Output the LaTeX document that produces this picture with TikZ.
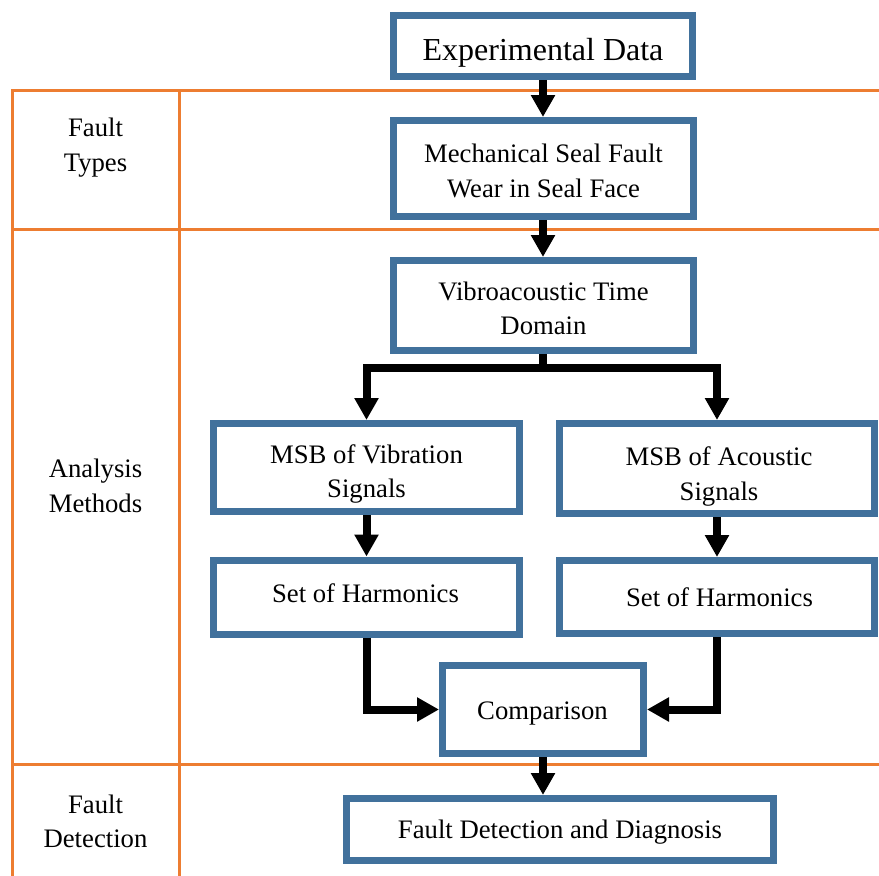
\documentclass[tikz,border=0pt]{standalone}
\usepackage{fontspec}
\setmainfont{Liberation Serif}
\usetikzlibrary{arrows.meta}
\definecolor{boxblue}{RGB}{65,113,156}
\definecolor{gridorange}{RGB}{237,125,49}
\begin{document}
\begin{tikzpicture}[x=1pt,y=-1pt,
  stagebox/.style={draw=boxblue, line width=7pt, fill=white, inner sep=0pt},
  boxtext/.style={anchor=base, inner sep=0pt, font=\fontsize{26.7}{35}\selectfont},
  titletext/.style={boxtext, font=\fontsize{32}{38}\selectfont},
  flow/.style={line width=8pt, -{Triangle[length=22pt,width=23pt]}},
  grid/.style={draw=gridorange, line width=3pt}]
\useasboundingbox (0,0) rectangle (879,876);

% table frame
\draw[grid] (12,876) -- (12,90) -- (879,90);
\draw[grid] (179,90) -- (179,876);
\draw[grid] (12,229) -- (879,229);
\draw[grid] (12,764) -- (879,764);

% row labels (one node per printed line, placed on its baseline)
\node[boxtext] (rowtypesA) at (95.5,136) {Fault};
\node[boxtext] (rowtypesB) at (95.5,171) {Types};
\node[boxtext] (rowmethodsA) at (95.5,477) {Analysis};
\node[boxtext] (rowmethodsB) at (95.5,512) {Methods};
\node[boxtext] (rowdetectA) at (95.5,813) {Fault};
\node[boxtext] (rowdetectB) at (95.5,847) {Detection};

% process stages
\node[stagebox, minimum width=299pt, minimum height=61pt] (data) at (543,46) {};
\node[stagebox, minimum width=300pt, minimum height=96pt] (seal) at (543.5,168.5) {};
\node[stagebox, minimum width=300pt, minimum height=90pt] (vibro) at (543.5,305.5) {};
\node[stagebox, minimum width=306pt, minimum height=88pt] (msbv) at (366.5,467.5) {};
\node[stagebox, minimum width=315pt, minimum height=90pt] (msba) at (717,468.5) {};
\node[stagebox, minimum width=306pt, minimum height=74pt] (harmv) at (366,597) {};
\node[stagebox, minimum width=315pt, minimum height=73pt] (harma) at (717,597) {};
\node[stagebox, minimum width=201pt, minimum height=88pt] (comp) at (543,709.5) {};
\node[stagebox, minimum width=427pt, minimum height=62pt] (diag) at (560,829.5) {};

% stage texts
\node[titletext] (dataT) at (543,60) {Experimental Data};
\node[boxtext] (sealTA) at (543.5,162) {Mechanical Seal Fault};
\node[boxtext] (sealTB) at (543.5,197) {Wear in Seal Face};
\node[boxtext] (vibroTA) at (543.5,300) {Vibroacoustic Time};
\node[boxtext] (vibroTB) at (543.5,334) {Domain};
\node[boxtext] (msbvTA) at (366.5,463) {MSB of Vibration};
\node[boxtext] (msbvTB) at (366.5,497) {Signals};
\node[boxtext] (msbaTA) at (719,465) {MSB of Acoustic};
\node[boxtext] (msbaTB) at (719,500) {Signals};
\node[boxtext] (harmvT) at (365.5,602) {Set of Harmonics};
\node[boxtext] (harmaT) at (719.5,606) {Set of Harmonics};
\node[boxtext] (compT) at (542.5,719) {Comparison};
\node[boxtext] (diagT) at (560,838) {Fault Detection and Diagnosis};

% flow arrows
\draw[flow] (data.south) -- (seal.north -| data.south);
\draw[flow] (seal.south -| data.south) -- (vibro.north -| data.south);
\coordinate (split) at ([yshift=-14pt]vibro.south -| data.south);
\draw[flow] (vibro.south -| data.south) -- (split) -| (msbv.north);
\draw[flow] (split) -| (msba.north);
\draw[flow] (msbv.south) -- (harmv.north -| msbv.south);
\draw[flow] (msba.south) -- (harma.north -| msba.south);
\draw[flow] (harmv.south -| msbv.south) |- (comp.west);
\draw[flow] (harma.south -| msba.south) |- (comp.east);
\draw[flow] (comp.south) -- (diag.north -| comp.south);
\end{tikzpicture}
\end{document}
